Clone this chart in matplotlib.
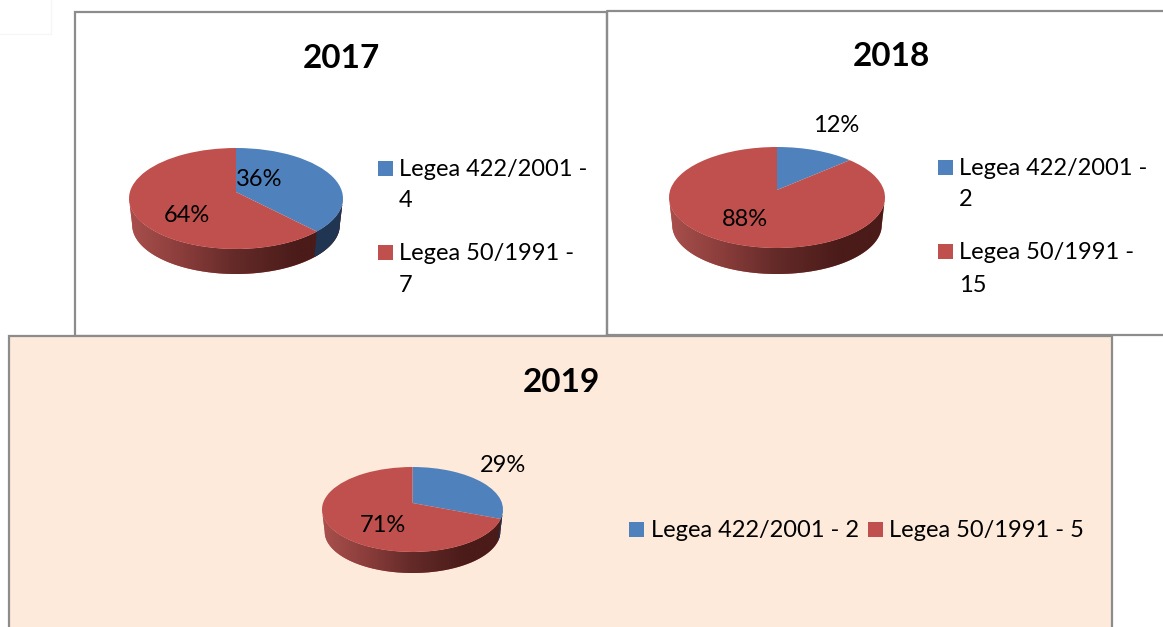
import numpy as np
import matplotlib
matplotlib.use("Agg")
import matplotlib.pyplot as plt
from matplotlib.colors import LinearSegmentedColormap
from matplotlib.patches import Rectangle, Polygon

plt.rcParams['font.family'] = ['Lato', 'DejaVu Sans']

W, H = 1163, 627
BLUE, RED = '#4F81BD', '#C0504D'
DARK_BLUE = '#1F3552'
GREY = '#8C8C8C'
PANEL = '#FDEADA'

years = ['2017', '2018', '2019']
values_422 = [4, 2, 2]
values_50 = [7, 15, 5]
name_422 = 'Legea 422/2001'
name_50 = 'Legea 50/1991'

# pie geometry in pixels: left, right, top of top face, bottom of top face, bottom of wall, apex y
pies = [(129, 343, 148, 249, 274, 192),
        (669, 885, 147, 248, 274, 190),
        (322, 503, 467, 552, 573, 503)]
title_xy = [(341, 58), (891, 56), (561, 382)]
pct_xy = [((259, 179), (187, 216)), ((836, 126), (745, 220)), ((503, 465), (383, 526))]

fig = plt.figure(figsize=(W / 100, H / 100), dpi=100, facecolor='white')
bg = fig.add_axes([0, 0, 1, 1], zorder=0)
bg.set_xlim(0, W)
bg.set_ylim(H, 0)
bg.axis('off')

# faint remnant in the corner
bg.plot([0, 51, 51], [34, 34, 0], color='#F6F6F6', lw=1)
# panels
bg.add_patch(Rectangle((74.8, 11.5), 532, 324, fc='white', ec=GREY, lw=1.6))
bg.plot([606.8, 606.8, W], [335, 10.5, 10.5], color=GREY, lw=1.6)
bg.plot([606.8, W], [335, 335], color=GREY, lw=1.6)
bg.add_patch(Rectangle((9, 335.5), 1103, 300, fc=PANEL, ec=GREY, lw=1.6))

wall_cmap = LinearSegmentedColormap.from_list(
    'wall', [(0, '#A9504D'), (0.25, '#8A3D3B'), (0.5, '#632A28'),
             (0.8, '#4A1B19'), (1, '#4A1B19')])


def draw_pie(geom, vals):
    l, r, t, b, wb, apex = geom
    rx = (r - l) / 2
    ry = (b - t) / 2
    cy_px = (t + b) / 2
    ax = fig.add_axes([l / W, 1 - wb / H, (r - l) / W, (wb - t) / H], zorder=1)
    wedges, _ = ax.pie(vals, colors=[BLUE, RED], startangle=90, counterclock=False, radius=1)
    ax.set_aspect('auto')
    ymin = -(wb - cy_px) / ry
    shrink = 0.97
    d = -ymin - shrink
    # side wall
    ang = np.linspace(np.pi, 2 * np.pi, 200)
    top_x, top_y = np.cos(ang), np.sin(ang)
    bot_x, bot_y = shrink * np.cos(ang), shrink * np.sin(ang) - d
    wall = Polygon(np.r_[np.c_[top_x, top_y], np.c_[bot_x, bot_y][::-1]], closed=True,
                   fc=RED, ec='none', zorder=0)
    ax.add_patch(wall)
    img = ax.imshow(np.linspace(0, 1, 256)[None, :], cmap=wall_cmap, extent=(-1, 1, ymin, 0),
                    aspect='auto', zorder=0.5)
    img.set_clip_path(wall)
    # blue part of the wall, in front only when the blue slice passes 3 o'clock
    theta = 2 * np.pi * vals[0] / sum(vals)
    if theta > np.pi / 2:
        a = np.linspace(np.pi / 2 - theta, 0, 40)
        ax.add_patch(Polygon(np.r_[np.c_[np.cos(a), np.sin(a)],
                                   np.c_[shrink * np.cos(a), shrink * np.sin(a) - d][::-1]],
                             closed=True, fc=DARK_BLUE, ec='none', zorder=0.6))
    # perspective: the apex sits above the centre of the ellipse
    for w in wedges:
        v = w.get_path().vertices
        v[np.hypot(v[:, 0], v[:, 1]) < 1e-6, 1] += (cy_px - apex) / ry
        w.set_zorder(2)
    ax.set_xlim(-1, 1)
    ax.set_ylim(ymin, (cy_px - t) / ry)
    ax.axis('off')


def txt(x, y, s, size=17, **kw):
    fig.text(x, y, s, transform=bg.transData, fontsize=size, color='black',
             va='center', zorder=5, **kw)


def swatch(x, y, c):
    bg.add_patch(Rectangle((x, y - 7.5), 15, 15, fc=c, ec='none'))


for i, yr in enumerate(years):
    v = [values_422[i], values_50[i]]
    draw_pie(pies[i], v)
    txt(*title_xy[i], yr, size=24, fontweight='bold', ha='center')
    for val, xy in zip(v, pct_xy[i]):
        txt(*xy, f'{round(100 * val / sum(v))}%', ha='center')

# legends
for i, (sx, tx, ys) in enumerate([(378, 399, (168, 199, 252, 284)), (938, 959, (167, 198, 251, 284))]):
    swatch(sx, ys[0], BLUE)
    txt(tx, ys[0] + 1.5, f'{name_422} -')
    txt(tx, ys[1] + 1.5, str(values_422[i]))
    swatch(sx, ys[2], RED)
    txt(tx, ys[2] + 1.5, f'{name_50} -')
    txt(tx, ys[3] + 1.5, str(values_50[i]))
swatch(629, 529, BLUE)
txt(651, 530.5, f'{name_422} - {values_422[2]}')
swatch(868, 529, RED)
txt(889, 530.5, f'{name_50} - {values_50[2]}')

fig.savefig('out.png', dpi=100)
